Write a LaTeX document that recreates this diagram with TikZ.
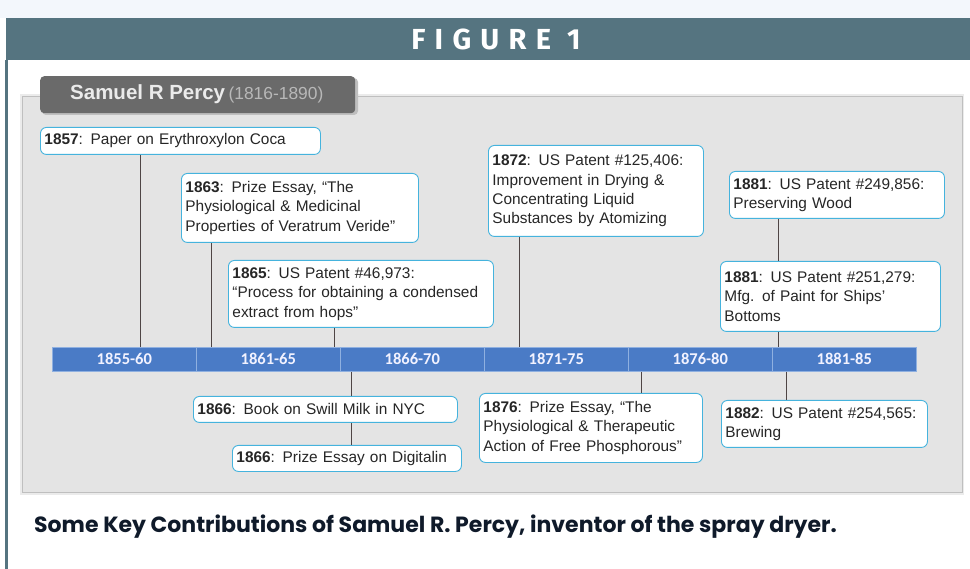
\documentclass[tikz,border=0pt]{standalone}
\usepackage{fontspec}
\setmainfont{Liberation Sans}
\newfontfamily\hdfont{Fira Sans}
\newfontfamily\barfont{Carlito}
\newfontfamily\capfont{Poppins}
\definecolor{topbg}{HTML}{F3F7FC}
\definecolor{hdr}{HTML}{557480}
\definecolor{panelbg}{HTML}{E4E4E4}
\definecolor{panelbd}{HTML}{BFBFBF}
\definecolor{tabbg}{HTML}{6A6A6A}
\definecolor{barblue}{HTML}{4A7BC6}
\definecolor{bardiv}{HTML}{8FB0E0}
\definecolor{boxcyan}{HTML}{45B3DD}
\definecolor{conn}{HTML}{4E4545}
\definecolor{captxt}{HTML}{0F1A2A}
\tikzset{
  evbox/.style={draw=boxcyan, fill=white, rounded corners=6pt, line width=0.9pt,
    inner xsep=4pt, inner ysep=2pt, align=left, anchor=north west,
    font=\fontsize{15.4}{19.4}\selectfont, text=black!85},
  seg/.style={fill=barblue, draw=bardiv, line width=0.6pt, anchor=north west,
    minimum width=144pt, minimum height=24pt, inner sep=0pt,
    font=\barfont\bfseries\fontsize{16.5}{18}\selectfont, text=white!95!blue},
  conline/.style={draw=conn, line width=0.8pt},
}
\begin{document}
\begin{tikzpicture}[x=1pt,y=-1pt]
\useasboundingbox (0,0) rectangle (970,569);
\fill[white] (0,0) rectangle (970,569);
\fill[topbg] (0,0) rectangle (970,18);
\fill[hdr] (6,18) rectangle (970,60);
\node[text=white, font=\hdfont\bfseries\fontsize{29}{32}\selectfont\addfontfeatures{LetterSpace=32}] (fig) at (496,39) {FIGURE 1};
\fill[hdr] (5,60) rectangle (7.5,569);
% panel
\fill[black!8] (20,94) rectangle (964,495);
\node[fill=panelbg, draw=panelbd, line width=1pt, anchor=north west, minimum width=940pt, minimum height=396pt, inner sep=0pt] (panel) at (22,96) {};
% title tab
\fill[black!25, rounded corners=4pt] (42,78) rectangle (358,115);
\node[fill=tabbg, rounded corners=4pt, anchor=north west, minimum width=315pt, minimum height=37pt, inner sep=0pt] (tab) at (40,76) {};
\node[anchor=west, inner sep=0pt, text=white!92!black] (ttl) at (70,94)
  {\fontsize{20.5}{23}\selectfont\bfseries Samuel R Percy\,\fontsize{17.4}{19}\selectfont\mdseries\color{white!72!black}(1816-1890)};
% timeline segments
\node[seg] (s1) at (52,347) {1855-60};
\node[seg] (s2) at (196,347) {1861-65};
\node[seg] (s3) at (340,347) {1866-70};
\node[seg] (s4) at (484,347) {1871-75};
\node[seg] (s5) at (628,347) {1876-80};
\node[seg] (s6) at (772,347) {1881-85};
% upper boxes
\node[evbox, text width=272pt, minimum height=27pt] (b1857) at (40,127) {\textbf{1857}: Paper on Erythroxylon Coca};
\node[evbox, text width=229pt, minimum height=69pt] (b1863) at (181,173) {\textbf{1863}: Prize Essay, “The\\Physiological \& Medicinal\\Properties of Veratrum Veride”};
\node[evbox, text width=257pt, minimum height=67pt] (b1865) at (228,260) {\textbf{1865}: US Patent \#46,973:\\“Process for obtaining a condensed\\extract from hops”};
\node[evbox, text width=207pt, minimum height=91pt] (b1872) at (488,145) {\textbf{1872}: US Patent \#125,406:\\Improvement in Drying \&\\Concentrating Liquid\\Substances by Atomizing};
\node[evbox, text width=207pt, minimum height=47pt] (b1881a) at (729,171) {\textbf{1881}: US Patent \#249,856:\\Preserving Wood};
\node[evbox, text width=212pt, minimum height=70pt] (b1881b) at (720,261) {\textbf{1881}: US Patent \#251,279:\\Mfg. of Paint for Ships’\\Bottoms};
% lower boxes
\node[evbox, text width=256pt, minimum height=26pt] (b1866a) at (193,396) {\textbf{1866}: Book on Swill Milk in NYC};
\node[evbox, text width=221pt, minimum height=26pt] (b1866b) at (232,445) {\textbf{1866}: Prize Essay on Digitalin};
\node[evbox, text width=215pt, minimum height=69pt] (b1876) at (479,393) {\textbf{1876}: Prize Essay, “The\\Physiological \& Therapeutic\\Action of Free Phosphorous”};
\node[evbox, text width=198pt, minimum height=47pt] (b1882) at (721,400) {\textbf{1882}: US Patent \#254,565:\\Brewing};
% connectors
\draw[conline] (140,0 |- b1857.south) -- (140,0 |- s1.north);
\draw[conline] (211,0 |- b1863.south) -- (211,0 |- s2.north);
\draw[conline] (334,0 |- b1865.south) -- (334,0 |- s2.north);
\draw[conline] (519,0 |- b1872.south) -- (519,0 |- s4.north);
\draw[conline] (778,0 |- b1881a.south) -- (778,0 |- b1881b.north);
\draw[conline] (778,0 |- b1881b.south) -- (778,0 |- s6.north);
\draw[conline] (351,0 |- s3.south) -- (351,0 |- b1866a.north);
\draw[conline] (351,0 |- b1866a.south) -- (351,0 |- b1866b.north);
\draw[conline] (641,0 |- s5.south) -- (641,0 |- b1876.north);
\draw[conline] (786,0 |- s6.south) -- (786,0 |- b1882.north);
% caption
\node[anchor=west, inner sep=0pt, text=captxt, font=\capfont\bfseries\fontsize{22}{26}\selectfont] (cap) at (34,527) {Some Key Contributions of Samuel R. Percy, inventor of the spray dryer.};
\end{tikzpicture}
\end{document}
